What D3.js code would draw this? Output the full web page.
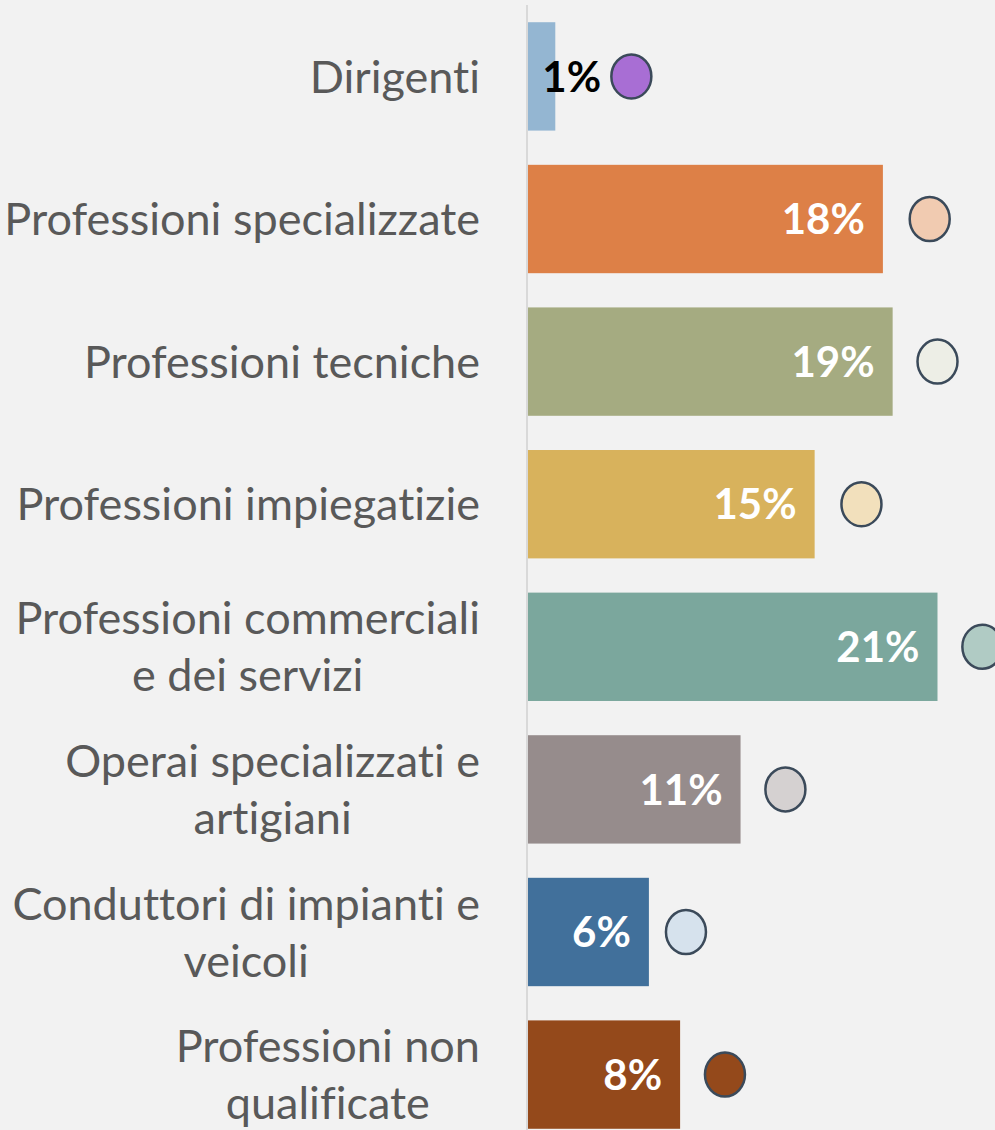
<!DOCTYPE html>
<html>
<head>
  <script src="https://d3js.org/d3.v7.min.js"></script>
  <style>
    body { margin: 0; background: #f2f2f2; }
    .cat text { font-family: Lato, sans-serif; font-size: 45px; fill: #595959; font-variant-ligatures: none; }
    .val { font-family: Lato, sans-serif; font-size: 42px; font-weight: bold; }
  </style>
</head>
<body>
  <svg class="chart"></svg>
  <script>
    // categories, top to bottom
    var categories = [
      'Dirigenti',
      'Professioni specializzate',
      'Professioni tecniche',
      'Professioni impiegatizie',
      'Professioni commerciali e dei servizi',
      'Operai specializzati e artigiani',
      'Conduttori di impianti e veicoli',
      'Professioni non qualificate'
    ];
    // wrapped label lines
    var labelLines = [
      ['Dirigenti'],
      ['Professioni specializzate'],
      ['Professioni tecniche'],
      ['Professioni impiegatizie'],
      ['Professioni commerciali', 'e dei servizi'],
      ['Operai specializzati e', 'artigiani'],
      ['Conduttori di impianti e', 'veicoli'],
      ['Professioni non', 'qualificate']
    ];
    // share (%) shown by the bars
    var shares = [1.4, 18.2, 18.7, 14.7, 21.0, 10.9, 6.2, 7.8];
    // position of the marker circles (%)
    var markers = [5.3, 20.6, 21.0, 17.1, 23.3, 13.2, 8.1, 10.1];

    var barColors = ['#94b6d2', '#dd8047', '#a5ab81', '#d8b25c', '#7ba79d', '#968c8c', '#41709b', '#94491b'];
    var dotColors = ['#a86ed4', '#f1cbb1', '#edeee6', '#f2e0bc', '#b0cbc4', '#d5d1d1', '#d6e2ed', '#94491b'];

    var width = 995, height = 1130;
    var x0 = 528;

    var svg = d3.select('.chart')
      .attr('width', width)
      .attr('height', height);

    var xScale = d3.scaleLinear()
      .domain([0, 24])
      .range([x0, x0 + 24 * 19.5]);

    var yScale = d3.scaleBand()
      .domain(categories)
      .range([-12, 1163])
      .padding(0.24);

    var data = categories.map(function (c, i) {
      return { name: c, lines: labelLines[i], value: shares[i], dot: markers[i], bar: barColors[i], dotFill: dotColors[i] };
    });

    // bars
    svg.selectAll('.bar')
      .data(data)
      .enter()
      .append('rect')
      .attr('class', 'bar')
      .attr('x', xScale(0))
      .attr('y', function (d) { return yScale(d.name); })
      .attr('width', function (d) { return xScale(d.value) - xScale(0); })
      .attr('height', yScale.bandwidth())
      .style('fill', function (d) { return d.bar; });

    // vertical axis line
    svg.append('line')
      .attr('x1', x0 - 1).attr('x2', x0 - 1)
      .attr('y1', 5).attr('y2', height)
      .style('stroke', '#d9d9d9')
      .style('stroke-width', 2);

    // category labels, lines centred under the widest one, block right-aligned
    var cat = svg.append('g').attr('class', 'cat');
    cat.selectAll('text')
      .data(data)
      .enter()
      .append('text')
      .attr('text-anchor', 'middle')
      .each(function (d) {
        var t = d3.select(this);
        var cy = yScale(d.name) + yScale.bandwidth() / 2;
        var lh = 57;
        var start = cy - (d.lines.length - 1) * lh / 2;
        d.lines.forEach(function (l, i) {
          t.append('tspan')
            .attr('x', 480)
            .attr('y', start + i * lh)
            .attr('dy', '0.36em')
            .text(l);
        });
      });
    cat.selectAll('text').each(function () {
      var w = this.getBBox().width;
      d3.select(this).selectAll('tspan').attr('x', 480 - w / 2);
    });

    // value labels
    var fmt = function (v) { return Math.round(v) + '%'; };
    svg.selectAll('.val')
      .data(data)
      .enter()
      .append('text')
      .attr('class', 'val')
      .attr('x', function (d) { return d.value < 3 ? xScale(d.value) - 13 : xScale(d.value) - 18; })
      .attr('y', function (d) { return yScale(d.name) + yScale.bandwidth() / 2; })
      .attr('dy', '0.36em')
      .attr('text-anchor', function (d) { return d.value < 3 ? 'start' : 'end'; })
      .style('fill', function (d) { return d.value < 3 ? '#000' : '#fff'; })
      .text(function (d) { return fmt(d.value); });

    // marker circles
    svg.selectAll('.dot')
      .data(data)
      .enter()
      .append('ellipse')
      .attr('class', 'dot')
      .attr('cx', function (d) { return xScale(d.dot); })
      .attr('cy', function (d) { return yScale(d.name) + yScale.bandwidth() / 2; })
      .attr('rx', 20)
      .attr('ry', 22)
      .style('fill', function (d) { return d.dotFill; })
      .style('stroke', '#3b4a5a')
      .style('stroke-width', 2.5);
  </script>
</body>
</html>
